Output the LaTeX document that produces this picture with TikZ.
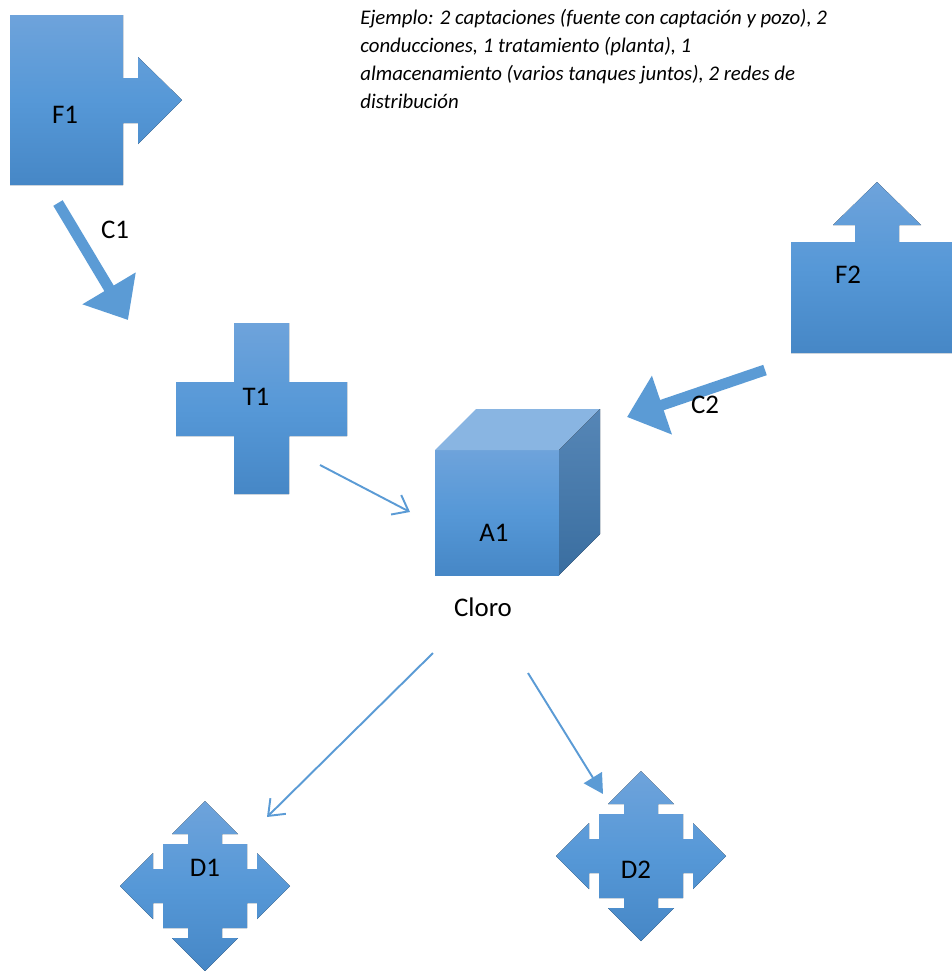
\documentclass[tikz,border=0pt]{standalone}
\usepackage{fontspec}
\setmainfont{Carlito}
\usetikzlibrary{arrows.meta}
\definecolor{bluetop}{RGB}{110,163,219}
\definecolor{bluemid}{RGB}{86,152,215}
\definecolor{bluebot}{RGB}{70,135,198}
\definecolor{bluelin}{RGB}{91,155,213}
\definecolor{cubetop}{RGB}{137,181,226}
\definecolor{sidetop}{RGB}{86,134,182}
\definecolor{sidebot}{RGB}{58,110,160}
\newcommand{\quadarrow}[1]{%
  \fill[blk,shift={(#1)}] (-17,-42)--(-17,-52)--(-33,-52)--(0,-85)--(33,-52)--(17,-52)--(17,-42)
    --(42,-42)--(42,-17)--(52,-17)--(52,-33)--(85,0)--(52,33)--(52,17)--(42,17)
    --(42,42)--(17,42)--(17,52)--(33,52)--(0,85)--(-33,52)--(-17,52)--(-17,42)
    --(-42,42)--(-42,17)--(-52,17)--(-52,33)--(-85,0)--(-52,-33)--(-52,-17)--(-42,-17)
    --(-42,-42)--cycle;}

\begin{document}
\begin{tikzpicture}[x=0.02cm,y=-0.02cm,
  blk/.style={top color=bluetop,bottom color=bluebot,middle color=bluemid},
  lbl/.style={font=\fontsize{15.3}{18}\selectfont,inner sep=0pt},
  bigarrow/.style={line width=6.2pt,draw=bluelin,-{Triangle[length=21pt,width=34pt]}},
  thinarrow/.style={line width=1.1pt,draw=bluelin,-{Straight Barb[length=8pt,width=12.5pt]}}]
  \useasboundingbox (0,0) rectangle (952,971);
  \node[anchor=north west,inner sep=0pt,align=left,font=\fontsize{11.85}{15.9}\selectfont\itshape] (nota) at (360,9)
    {Ejemplo: 2 captaciones (fuente con captación y pozo), 2\\conducciones, 1 tratamiento (planta), 1\\almacenamiento (varios tanques juntos), 2 redes de\\distribución};
  \fill[blk] (10,15)--(123,15)--(123,78)--(138,78)--(138,57)--(182,100)--(138,144)--(138,123)--(123,123)--(123,185)--(10,185)--cycle;
  \node[lbl] (f1) at (65,115) {F1};
  \fill[blk] (791,242)--(855,242)--(855,225)--(833,225)--(877,182)--(921,225)--(899,225)--(899,242)--(963,242)--(963,353)--(791,353)--cycle;
  \node[lbl] (f2) at (848,275) {F2};
  \fill[blk] (234,323)--(289,323)--(289,382)--(347,382)--(347,436)--(289,436)--(289,494)--(234,494)--(234,436)--(176,436)--(176,382)--(234,382)--cycle;
  \node[lbl] (t1) at (256,397) {T1};
  \fill[blk] (435,450) rectangle (559,575);
  \fill[cubetop] (435,450)--(476,409)--(600,409)--(559,450)--cycle;
  \fill[top color=sidetop,bottom color=sidebot] (559,450)--(600,409)--(600,534)--(559,575)--cycle;
  \node[lbl] (a1) at (494,533) {A1};
  \node[lbl] (cloro) at (483,607) {Cloro};
  \quadarrow{205,886}
  \node[lbl] (d1) at (205,868) {D1};
  \quadarrow{641,856}
  \node[lbl] (d2) at (636,870) {D2};
  \coordinate (c1s) at (58,203);
  \coordinate (c1e) at (128,320);
  \draw[bigarrow] (c1s) -- (c1e);
  \node[lbl] (c1) at (115,230) {C1};
  \coordinate (c2s) at (765,370);
  \coordinate (c2e) at (627,417);
  \draw[bigarrow] (c2s) -- (c2e);
  \node[lbl] (c2) at (705,405) {C2};
  \coordinate (t1out) at (320,465);
  \coordinate (a1in) at (410,512);
  \draw[thinarrow] (t1out) -- (a1in);
  \coordinate (a1d1) at (433,653);
  \coordinate (d1in) at (267,817);
  \draw[thinarrow] (a1d1) -- (d1in);
  \coordinate (a1d2) at (528,673);
  \coordinate (d2in) at (603,794);
  \draw[line width=1.1pt,draw=bluelin,-{Triangle[length=11pt,width=12pt]}] (a1d2) -- (d2in);
\end{tikzpicture}
\end{document}
